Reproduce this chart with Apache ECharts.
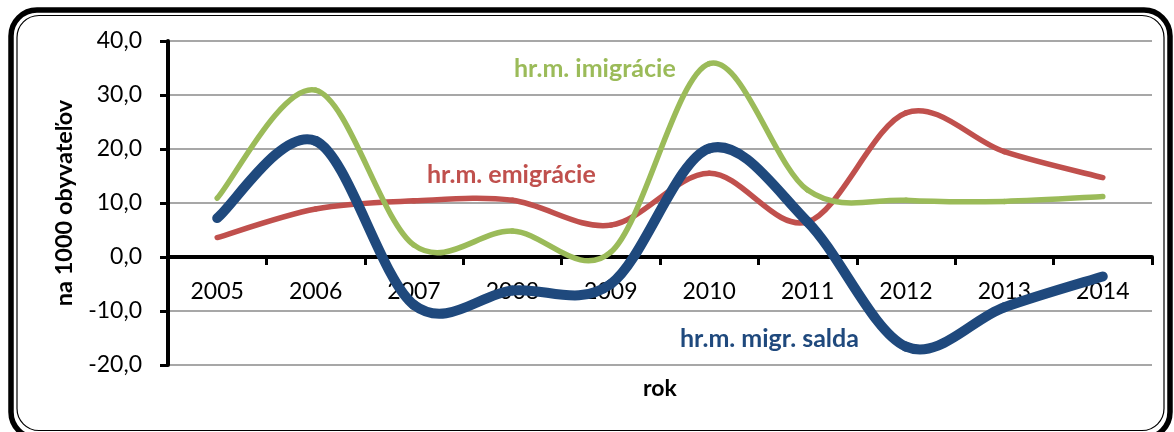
<!DOCTYPE html>
<html>
<head>
<meta charset="utf-8">
<script src="https://cdn.jsdelivr.net/npm/echarts@6/dist/echarts.min.js"></script>
<style>
html,body{margin:0;padding:0;background:#fff;}
#c{width:1174px;height:432px;}
</style>
</head>
<body>
<div id="c"></div>
<script>
const years = ['2005','2006','2007','2008','2009','2010','2011','2012','2013','2014'];
const imigracie = [10.9, 30.9, 2.2, 4.8, 0.9, 35.8, 12.4, 10.5, 10.3, 11.2];
const emigracie = [3.6, 8.9, 10.4, 10.5, 5.9, 15.5, 6.5, 26.7, 19.5, 14.7];
const salda = [7.2, 21.5, -8.9, -6.2, -5.0, 20.1, 6.5, -16.6, -9.3, -3.6];
const seriesNames = ['hr.m. emigrácie', 'hr.m. imigrácie', 'hr.m. migr. salda'];

const FONT = 'Lato';
const FS = 23;

// Excel-like smoothed line: cubic Bezier segments (Catmull-Rom, 1/6 tension),
// points placed via the chart's own axes (api.coord).
function smoothLine(name, values, color, width) {
  return {
    type: 'custom',
    name: name,
    coordinateSystem: 'cartesian2d',
    data: values.map((v, i) => [years[i], v]),
    encode: {x: 0, y: 1},
    clip: false,
    renderItem: function (params, api) {
      const i = params.dataIndexInside;
      const n = params.dataInsideLength;
      if (i >= n - 1) return null;
      const P = k => api.coord([api.value(0, k), api.value(1, k)]);
      const p0 = P(Math.max(i - 1, 0));
      const p1 = P(i);
      const p2 = P(i + 1);
      const p3 = P(Math.min(i + 2, n - 1));
      const t = 1 / 6;
      return {
        type: 'bezierCurve',
        shape: {
          x1: p1[0], y1: p1[1], x2: p2[0], y2: p2[1],
          cpx1: p1[0] + (p2[0] - p0[0]) * t, cpy1: p1[1] + (p2[1] - p0[1]) * t,
          cpx2: p2[0] - (p3[0] - p1[0]) * t, cpy2: p2[1] - (p3[1] - p1[1]) * t
        },
        style: {stroke: color, lineWidth: width, fill: null, lineCap: 'round'}
      };
    }
  };
}

const chart = echarts.init(document.getElementById('c'), null, {renderer: 'canvas'});
chart.setOption({
  animation: false,
  backgroundColor: '#fff',
  grid: {left: 168, right: 22, top: 41, bottom: 67, containLabel: false, outerBoundsMode: 'none'},
  xAxis: {
    type: 'category',
    data: years,
    boundaryGap: true,
    name: 'rok',
    nameLocation: 'middle',
    nameGap: 12,
    nameTextStyle: {fontFamily: FONT, fontSize: FS, fontWeight: 'bold', color: '#000'},
    axisLine: {onZero: true, lineStyle: {color: '#000', width: 4}},
    axisTick: {show: true, length: 8, lineStyle: {color: '#000', width: 3}},
    axisLabel: {fontFamily: FONT, fontSize: FS, color: '#000', margin: -85},
    splitLine: {show: false}
  },
  yAxis: {
    type: 'value',
    min: -20, max: 40, interval: 10,
    name: 'na 1000 obyvateľov',
    nameLocation: 'middle',
    nameRotate: 90,
    nameGap: 92,
    nameTextStyle: {fontFamily: FONT, fontSize: 23.5, fontWeight: 'bold', color: '#000'},
    axisLine: {show: true, lineStyle: {color: '#000', width: 4}},
    axisTick: {show: true, length: 8, lineStyle: {color: '#000', width: 3}},
    axisLabel: {
      fontFamily: FONT, fontSize: FS, color: '#000', margin: 26,
      formatter: v => v.toFixed(1).replace('.', ',')
    },
    splitLine: {show: true, lineStyle: {color: '#8a8a8a', width: 1.5}}
  },
  series: [
    smoothLine(seriesNames[0], emigracie, '#C0504D', 5.5),
    smoothLine(seriesNames[1], imigracie, '#9BBB59', 5.5),
    smoothLine(seriesNames[2], salda, '#1F497D', 10)
  ],
  graphic: [
    {type: 'rect', silent: true, z: 100,
     shape: {x: 11, y: 10, width: 1159, height: 428, r: 26},
     style: {fill: 'none', stroke: '#000', lineWidth: 5.5}},
    {type: 'rect', silent: true, z: 100,
     shape: {x: 17, y: 15.5, width: 1147, height: 415, r: 22},
     style: {fill: 'none', stroke: '#000', lineWidth: 1.2}},
    {type: 'text', left: 514, top: 56, z: 100,
     style: {text: seriesNames[1], fill: '#9BBB59', font: 'bold 25px Lato'}},
    {type: 'text', left: 427, top: 162, z: 100,
     style: {text: seriesNames[0], fill: '#C0504D', font: 'bold 25px Lato'}},
    {type: 'text', left: 680, top: 326, z: 100,
     style: {text: seriesNames[2], fill: '#1F497D', font: 'bold 25px Lato'}}
  ]
});
</script>
</body>
</html>
